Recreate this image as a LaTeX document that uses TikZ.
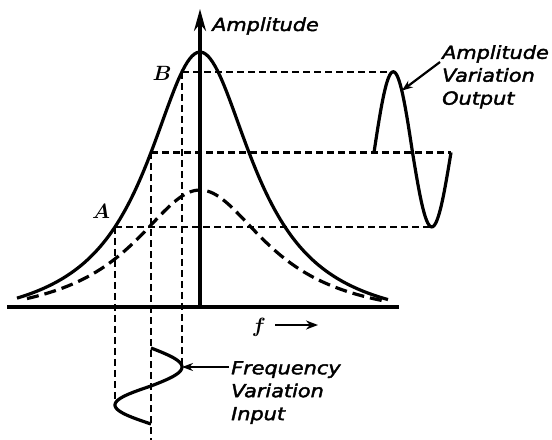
\documentclass[tikz,border=0pt]{standalone}
\usepackage{fontspec}
\usepackage{tikz}
\usetikzlibrary{arrows.meta}
\newfontfamily\letterfont[FakeStretch=1.16, FakeBold=2.2]{DejaVu Sans}

\begin{document}
\begin{tikzpicture}[x=1bp, y=-1bp,
	guide/.style={line width=2.2bp, dash pattern=on 7bp off 4bp},
	curve/.style={line width=3.2bp},
	pointer/.style={line width=2.2bp, -{Stealth[length=11bp,width=8bp]}},
	lettering/.style={font=\letterfont\itshape\fontsize{18}{23}\selectfont, align=left, inner sep=0pt},
	letter/.style={font=\boldmath\fontsize{22}{24}\selectfont, inner sep=0pt},
	declare function={resp(\t)=307-255*(1/(1+((\t-200)/65)^2)-0.08)/0.92;
		damp(\t)=307-117*(1/(1+((\t-200)/82)^2)-0.12)/0.88;}]
	\useasboundingbox (0,0) rectangle (552,440);
	\pgfmathsetmacro\yB{resp(182)}
	\pgfmathsetmacro\yM{resp(151)}
	\pgfmathsetmacro\yA{resp(115)}
	\pgfmathsetmacro\yO{\yM-(\yM-\yB)*sin(130)}
	\coordinate (O) at (200,307);
	\coordinate (top) at (200,9);
	\coordinate (left) at (7,307);
	\coordinate (right) at (399,307);
	\coordinate (B) at (182,\yB);
	\coordinate (M) at (151,\yM);
	\coordinate (A) at (115,\yA);
	\coordinate (Opk) at (393.25,\yB);
	\coordinate (Otr) at (431.75,\yA);
	\coordinate (Oend) at (451,\yM);
	\coordinate (Oarr) at (401.8,\yO);
	\coordinate (Ipk) at (182,367);
	\coordinate (Itr) at (115,405);
	\coordinate (Mend) at (151,440);
	\draw[line width=3.4bp] (left) -- (right);
	\draw[line width=3.2bp, -{Stealth[length=22bp,width=12bp]}] (O) -- (top);
	\draw[curve] plot[domain=17:388, samples=160] (\x,{resp(\x)});
	\draw[curve, dash pattern=on 12bp off 6bp] plot[domain=27:382, samples=160] (\x,{damp(\x)});
	\draw[curve] plot[domain=0:360, samples=80] ({374+\x/360*77},{\yM-(sin(\x)>0 ? \yM-\yB : \yA-\yM)*sin(\x)});
	\draw[curve] plot[domain=0:360, samples=80] ({151+(sin(\x)>0 ? 31 : 36)*sin(\x)},{348+\x/360*76});
	\draw[guide] (B) -- (Opk);
	\draw[guide] (M) -- (Oend);
	\draw[guide] (A) -- (Otr);
	\draw[guide] (B) -- (Ipk);
	\draw[guide] (M) -- (Mend);
	\draw[guide] (A) -- (Itr);
	\node[lettering, anchor=base west] (amp) at (212,31) {Amplitude};
	\node[letter] (Blbl) at (162,73) {$B$};
	\node[letter] (Albl) at (101,211) {$A$};
	\node[letter] (flbl) at (259,327) {$f$};
	\coordinate (fstart) at (275,325);
	\coordinate (fend) at (318,325);
	\draw[line width=2.8bp, -{Stealth[length=12bp,width=9bp]}] (fstart) -- (fend);
	\node[lettering, anchor=north west] (outlbl) at (442,45) {Amplitude\\Variation\\Output};
	\node[lettering, anchor=north west] (inlbl) at (231,361) {Frequency\\Variation\\Input};
	\coordinate (Otail) at (440,62);
	\coordinate (Itail) at (229,367);
	\draw[pointer] (Otail) -- (Oarr);
	\draw[pointer] (Itail) -- (Ipk);
\end{tikzpicture}
\end{document}
